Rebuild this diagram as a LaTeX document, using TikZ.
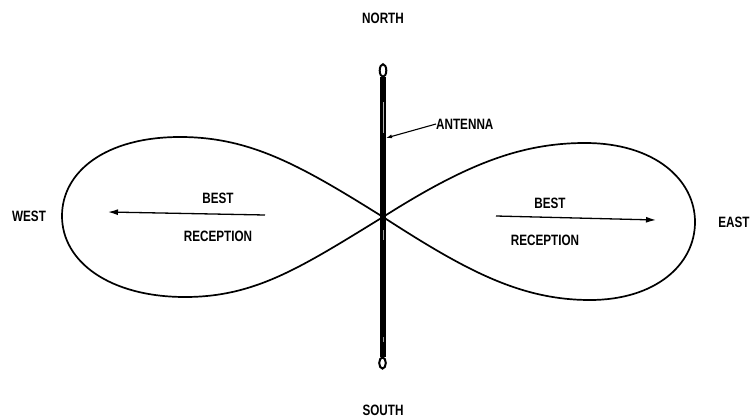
\documentclass[tikz,border=0pt]{standalone}
\usepackage{fontspec}
\usepackage{graphicx}
\setmainfont{Liberation Sans}
\usetikzlibrary{arrows.meta}
\newcommand\condtxt[1]{\scalebox{0.78}[1]{\bfseries #1}}
\tikzset{
  lbl/.style={inner sep=0pt, font=\fontsize{15}{17}\selectfont},
  lobe/.style={line width=1.7pt, line join=round},
  arr/.style={line width=1.3pt, -{Latex[length=10pt,width=6pt]}},
  rod/.style={line width=5.5pt},
}
\begin{document}
\begin{tikzpicture}[x=1pt,y=-1pt]
\useasboundingbox (0,0) rectangle (755,420);
% lobes
\coordinate (c) at (383,217);
\draw[lobe] (c) .. controls (300,165) and (250,137) .. (180,137)
  .. controls (105,137) and (62,172) .. (62,216)
  .. controls (62,262) and (110,297) .. (185,297)
  .. controls (255,297) and (300,268) .. (c);
\draw[lobe] (c) .. controls (465,165) and (520,143) .. (585,143)
  .. controls (655,143) and (695,180) .. (695,222)
  .. controls (695,265) and (655,300) .. (590,300)
  .. controls (520,300) and (465,270) .. (c);
% antenna
\draw[rod] (383,77) -- (383,357);
\draw[white!70!black, line width=0.6pt] (383.4,102) -- (383.4,133);
\draw[white!60!black, line width=0.5pt] (383.4,230) -- (383.4,240);
\draw[white!60!black, line width=0.6pt] (383.4,337) -- (383.4,342);
\draw[line width=2pt] (383,70.5) ellipse [x radius=3.3, y radius=6.3];
\draw[line width=2pt] (382.5,363) ellipse [x radius=3.3, y radius=5.6];
% labels
\node[lbl] (north) at (383,18) {\condtxt{NORTH}};
\node[lbl] (south) at (383,410) {\condtxt{SOUTH}};
\node[lbl] (west) at (29,216) {\condtxt{WEST}};
\node[lbl] (east) at (734,222) {\condtxt{EAST}};
\node[lbl, anchor=west] (ant) at (436,124) {\condtxt{ANTENNA}};
\coordinate (antp) at (386,138);
\draw[line width=1.1pt, -{Latex[length=6pt,width=4pt]}] (ant.west) -- (antp);
\node[lbl] (bestl) at (218,198) {\condtxt{BEST}};
\node[lbl] (recl) at (218,236) {\condtxt{RECEPTION}};
\coordinate (al1) at (265,215);
\coordinate (al2) at (108,212);
\draw[arr] (al1) -- (al2);
\node[lbl] (bestr) at (550,203) {\condtxt{BEST}};
\node[lbl] (recr) at (545,240) {\condtxt{RECEPTION}};
\coordinate (ar1) at (496,216);
\coordinate (ar2) at (656,220);
\draw[arr] (ar1) -- (ar2);
\end{tikzpicture}
\end{document}
